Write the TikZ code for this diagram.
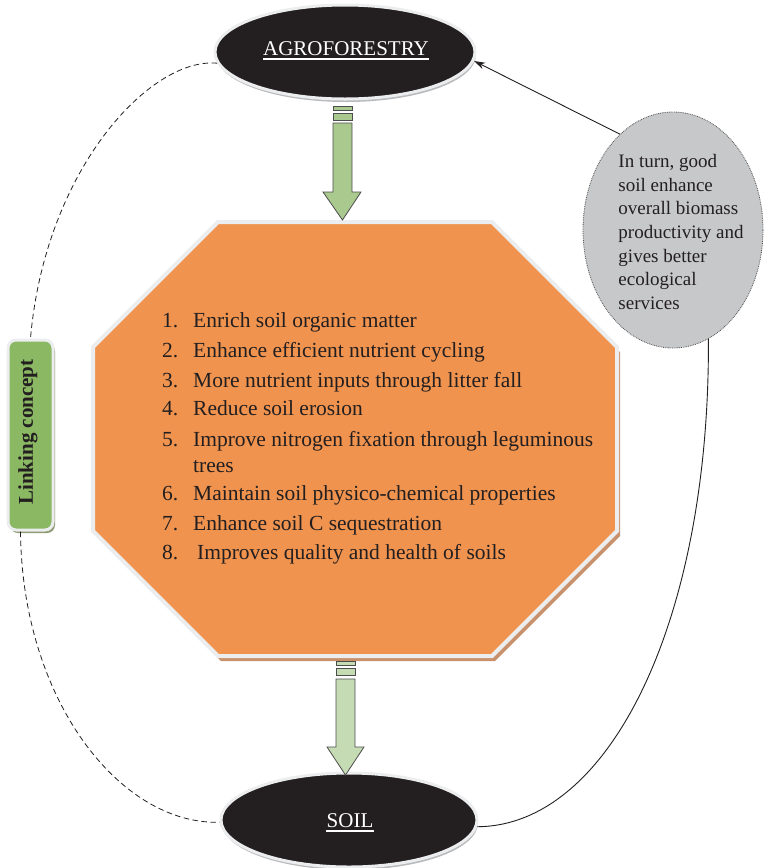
\documentclass[tikz,border=0pt]{standalone}
\usepackage{fontspec}
\setmainfont{Liberation Serif}
\usetikzlibrary{shapes.geometric,shadows,arrows.meta}

\definecolor{ink}{HTML}{231F20}
\definecolor{oval}{HTML}{231F20}
\definecolor{rim}{HTML}{ECEDEE}
\definecolor{rimshade}{HTML}{B9BABC}
\definecolor{octfill}{HTML}{F0934E}
\definecolor{octshade}{HTML}{C8916B}
\definecolor{greentop}{HTML}{A9C98F}
\definecolor{greenbot}{HTML}{C5DBB3}
\definecolor{linkgreen}{HTML}{8BB863}
\definecolor{linkshade}{HTML}{8E9B74}
\definecolor{greyfill}{HTML}{C7C8CA}
\definecolor{edge}{HTML}{4D4D4D}

\tikzset{
  blackoval/.style={ellipse, fill=oval, draw=rim, line width=3pt, inner sep=0pt,
    drop shadow={shadow xshift=1pt, shadow yshift=-3pt, fill=rimshade, opacity=1}},
  ovaltext/.style={anchor=base, inner sep=0pt, text=white, font=\fontsize{21}{25}\selectfont},
  blockarrow/.style={draw=edge, line width=0.8pt, line join=miter},
  itemtxt/.style={anchor=base west, inner sep=0pt, text=ink, font=\fontsize{21.5}{25}\selectfont},
  linkbox/.style={rectangle, rounded corners=8pt, fill=linkgreen, draw=rim, line width=3pt,
    drop shadow={shadow xshift=2pt, shadow yshift=-3pt, fill=linkshade, opacity=1}},
  greyoval/.style={ellipse, fill=greyfill, draw=edge, densely dotted, line width=0.8pt, inner sep=0pt},
  linkline/.style={draw=ink, line width=0.8pt, dash pattern=on 5.5pt off 3.5pt},
  backline/.style={draw=ink, line width=0.9pt},
}

\begin{document}
\begin{tikzpicture}[x=1pt, y=-1pt]
\useasboundingbox (0,0) rectangle (764,868);

% central octagon with its shadow and light rim
\path[fill=octfill, draw=rim, line width=4pt, line join=miter,
      drop shadow={shadow xshift=3pt, shadow yshift=-5pt, fill=octshade, opacity=1}]
  (218,222) -- (492,222) -- (617,347) -- (617,531) -- (492,656) -- (218,656)
  -- (93,531) -- (93,347) -- cycle;
\coordinate (oct) at (355,439);

% list of soil benefits
\node[itemtxt] (n1) at (162,327) {1.};
\node[itemtxt] (t1) at (193,327) {Enrich soil organic matter};
\node[itemtxt] (n2) at (162,357) {2.};
\node[itemtxt] (t2) at (193,357) {Enhance efficient nutrient cycling};
\node[itemtxt] (n3) at (162,387) {3.};
\node[itemtxt] (t3) at (193,387) {More nutrient inputs through litter fall};
\node[itemtxt] (n4) at (162,415) {4.};
\node[itemtxt] (t4) at (193,415) {Reduce soil erosion};
\node[itemtxt] (n5) at (162,446) {5.};
\node[itemtxt] (t5) at (193,446) {Improve nitrogen fixation through leguminous};
\node[itemtxt] (t5b) at (193,472) {trees};
\node[itemtxt] (n6) at (162,500) {6.};
\node[itemtxt] (t6) at (193,500) {Maintain soil physico-chemical properties};
\node[itemtxt] (n7) at (162,530) {7.};
\node[itemtxt] (t7) at (193,530) {Enhance soil C sequestration};
\node[itemtxt] (n8) at (162,559) {8.};
\node[itemtxt] (t8) at (197,559) {Improves quality and health of soils};

% top and bottom ovals
\node[blackoval, minimum width=260pt, minimum height=94pt] (agro) at (345,52) {};
\node[ovaltext] (agrotext) at (346,55) {AGROFORESTRY};
\draw[white, line width=1.3pt] ([yshift=-4pt]agrotext.base west) -- ([yshift=-4pt]agrotext.base east);

\node[blackoval, minimum width=256pt, minimum height=94pt] (soil) at (349,820) {};
\node[ovaltext] (soiltext) at (350,827) {SOIL};
\draw[white, line width=1.3pt] ([yshift=-4pt]soiltext.base west) -- ([yshift=-4pt]soiltext.base east);

% block arrow from agroforestry to the octagon
\path[blockarrow, fill=greentop] (333,106) rectangle (352,110);
\path[blockarrow, fill=greentop] (333,113) rectangle (352,120);
\path[blockarrow, fill=greentop] (333,123) -- (352,123) -- (352,192) -- (361,192)
  -- (342.5,220) -- (323,192) -- (333,192) -- cycle;

% block arrow from the octagon to soil
\path[blockarrow, fill=greenbot] (336,661) rectangle (355,665);
\path[blockarrow, fill=greenbot] (336,668) rectangle (355,675);
\path[blockarrow, fill=greenbot] (336,679) -- (355,679) -- (355,747) -- (364,747)
  -- (345.5,775) -- (327,747) -- (336,747) -- cycle;

% linking concept box
\node[linkbox, minimum width=45pt, minimum height=190pt] (link) at (30.5,435) {};
\node[rotate=90, inner sep=0pt, text=ink, font=\fontsize{21}{25}\selectfont\bfseries]
  (linktext) at (28,432) {Linking concept};

% feedback ellipse
\node[greyoval, minimum width=180pt, minimum height=236pt] (grey) at (673,230) {};
\node[align=left, inner sep=0pt, text=ink, font=\fontsize{19}{23.7}\selectfont]
  (greytext) at (681,232) {In turn, good\\soil enhance\\overall biomass\\productivity and\\gives better\\ecological\\services};

% connectors
\draw[linkline] (agro.185) .. controls (150,57) and (45,170) .. (link.north);
\draw[linkline] ([xshift=-10pt]link.south) .. controls (22,700) and (120,825) .. (soil.181);
\draw[backline, -{Stealth[length=11pt, width=7pt]}] (grey.119) -- (agro.-4);
\draw[backline] (grey.-72) .. controls (710,620) and (610,826) .. (soil.-3);
\end{tikzpicture}
\end{document}
